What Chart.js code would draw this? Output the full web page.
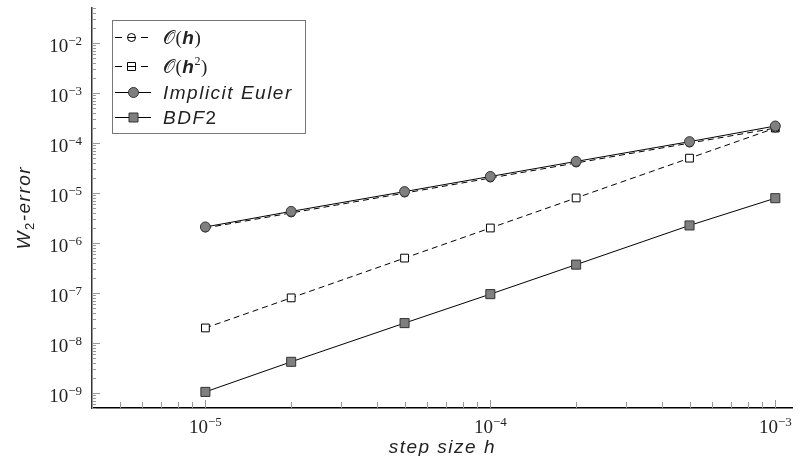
<!DOCTYPE html>
<html>
<head>
<meta charset="utf-8">
<script src="https://cdn.jsdelivr.net/npm/chart.js@4/dist/chart.umd.min.js"></script>
<style>
  html, body { margin: 0; padding: 0; background: #fff; }
</style>
</head>
<body>
<canvas id="errChart" width="800" height="456"></canvas>
<script>
// convergence data (log-log)
const stepSizes     = [1e-5, 2e-5, 5e-5, 1e-4, 2e-4, 5e-4, 1e-3];
const orderOne      = [2e-6, 4e-6, 1e-5, 2e-5, 4e-5, 1e-4, 2e-4];
const orderTwo      = [2e-8, 8e-8, 5e-7, 2e-6, 8e-6, 5e-5, 2e-4];
const implicitEuler = [2.1e-6, 4.3e-6, 1.07e-5, 2.15e-5, 4.3e-5, 1.07e-4, 2.2e-4];
const bdf2          = [1.05e-9, 4.2e-9, 2.5e-8, 9.5e-8, 3.7e-7, 2.25e-6, 7.9e-6];
const xTickExps = [-5, -4, -3];
const yTickExps = [-9, -8, -7, -6, -5, -4, -3, -2];
const xRange = [4e-6, 1.15e-3];
const yRange = [5e-10, 5.2e-2];

const SERIF = '"Liberation Serif", "DejaVu Serif", serif';
const SANS = '"Liberation Sans", Arial, sans-serif';
const INK = '#222';

function pts(vals){ return stepSizes.map((x, i) => ({ x, y: vals[i] })); }

function minorTicks(min, max){
  const out = [];
  for (let e = Math.floor(Math.log10(min)); e <= Math.ceil(Math.log10(max)); e++){
    for (let m = 1; m <= 9; m++){
      const v = m * Math.pow(10, e);
      if (v >= min * 0.999 && v <= max * 1.001) out.push({ v, major: m === 1 });
    }
  }
  return out;
}

// draw a run of text pieces: {t, font, dy}
function drawPieces(ctx, pieces, x, y, spacing){
  let cx = x;
  pieces.forEach(p => {
    ctx.font = p.font;
    ctx.letterSpacing = (p.sp != null ? p.sp : spacing) + 'px';
    ctx.fillText(p.t, cx, y + (p.dy || 0));
    cx += ctx.measureText(p.t).width;
  });
  return cx - x;
}
function piecesWidth(ctx, pieces, spacing){
  let w = 0;
  pieces.forEach(p => {
    ctx.font = p.font;
    ctx.letterSpacing = (p.sp != null ? p.sp : spacing) + 'px';
    w += ctx.measureText(p.t).width;
  });
  return w;
}
function powPieces(exp){
  return [
    { t: '10', font: '19px ' + SERIF, dy: 0, sp: 0 },
    { t: '\u2212' + Math.abs(exp), font: '13px ' + SERIF, dy: -7, sp: 0 }
  ];
}

const decor = {
  id: 'decor',
  afterDraw(chart){
    const { ctx, chartArea: a, scales: { x, y } } = chart;
    ctx.save();
    ctx.textBaseline = 'alphabetic';
    ctx.fillStyle = INK;

    // inward tick marks
    ctx.lineWidth = 1;
    ctx.strokeStyle = '#999';
    minorTicks(xRange[0], xRange[1]).forEach(t => {
      const px = Math.round(x.getPixelForValue(t.v)) + 0.5;
      const len = t.major ? 8 : 6;
      ctx.beginPath(); ctx.moveTo(px, a.bottom); ctx.lineTo(px, a.bottom - len); ctx.stroke();
    });
    minorTicks(yRange[0], yRange[1]).forEach(t => {
      const py = Math.round(y.getPixelForValue(t.v)) + 0.5;
      const len = t.major ? 8 : 4;
      ctx.beginPath(); ctx.moveTo(a.left, py); ctx.lineTo(a.left + len, py); ctx.stroke();
    });

    // tick labels
    xTickExps.forEach(e => {
      const px = x.getPixelForValue(Math.pow(10, e));
      const pcs = powPieces(e);
      const w = piecesWidth(ctx, pcs, 0);
      drawPieces(ctx, pcs, px - w / 2, a.bottom + 25, 0);
    });
    yTickExps.forEach(e => {
      const py = y.getPixelForValue(Math.pow(10, e));
      const pcs = powPieces(e);
      const w = piecesWidth(ctx, pcs, 0);
      drawPieces(ctx, pcs, 82 - w, py + 9, 0);
    });

    // axis titles
    const italic = 'italic 19px ' + SANS;
    const xt = [{ t: 'step size h', font: italic }];
    const xw = piecesWidth(ctx, xt, 1.5);
    drawPieces(ctx, xt, (a.left + a.right) / 2 - xw / 2, 453, 1.5);

    const yt = [
      { t: 'W', font: italic },
      { t: '2', font: '13px ' + SANS, dy: 4 },
      { t: '-error', font: italic }
    ];
    const yw = piecesWidth(ctx, yt, 1.5);
    ctx.save();
    ctx.translate(30, (a.top + a.bottom) / 2);
    ctx.rotate(-Math.PI / 2);
    drawPieces(ctx, yt, -yw / 2, 0, 1.5);
    ctx.restore();

    // legend box
    const L = { l: 112, t: 20, r: 305, b: 133 };
    ctx.letterSpacing = '0px';
    ctx.fillStyle = '#fff';
    ctx.fillRect(L.l, L.t, L.r - L.l, L.b - L.t);
    ctx.strokeStyle = '#777';
    ctx.lineWidth = 1;
    ctx.strokeRect(L.l + 0.5, L.t + 0.5, L.r - L.l, L.b - L.t);

    const rows = [
      { y: 37, dash: true, style: 'circle', fill: null, r: 4,
        text: [{ t: '\u{1D4AA}(', font: '19px ' + SERIF }, { t: 'h', font: 'italic bold 19px ' + SANS }, { t: ')', font: '19px ' + SERIF }] },
      { y: 66, dash: true, style: 'rect', fill: null, r: 4,
        text: [{ t: '\u{1D4AA}(', font: '19px ' + SERIF }, { t: 'h', font: 'italic bold 19px ' + SANS }, { t: '2', font: '12px ' + SERIF, dy: -8 }, { t: ')', font: '19px ' + SERIF }] },
      { y: 92, dash: false, style: 'circle', fill: '#7f7f7f', r: 5,
        text: [{ t: 'Implicit Euler', font: italic }] },
      { y: 117, dash: false, style: 'rect', fill: '#7f7f7f', r: 4.5,
        text: [{ t: 'BDF', font: italic }, { t: '2', font: '19px ' + SANS }] }
    ];
    rows.forEach(row => {
      ctx.strokeStyle = '#000';
      ctx.lineWidth = 1;
      if (row.dash){
        ctx.beginPath(); ctx.moveTo(115, row.y + 0.5); ctx.lineTo(122, row.y + 0.5);
        ctx.moveTo(141, row.y + 0.5); ctx.lineTo(148, row.y + 0.5); ctx.stroke();
      } else {
        ctx.beginPath(); ctx.moveTo(115, row.y + 0.5); ctx.lineTo(151, row.y + 0.5); ctx.stroke();
      }
      const cx = row.dash ? 131.5 : 133.5;
      ctx.beginPath();
      if (row.style === 'circle') ctx.arc(cx, row.y + 0.5, row.r, 0, Math.PI * 2);
      else ctx.rect(cx - row.r, row.y + 0.5 - row.r, row.r * 2, row.r * 2);
      if (row.fill){ ctx.fillStyle = row.fill; ctx.fill(); ctx.strokeStyle = '#333'; }
      else if (row.dash){ ctx.moveTo(cx - row.r, row.y + 0.5); ctx.lineTo(cx + row.r, row.y + 0.5); }
      ctx.stroke();
      ctx.fillStyle = INK;
      drawPieces(ctx, row.text, 163, row.y + 7, row.dash ? 0.5 : 1.5);
    });
    ctx.restore();
  }
};

new Chart(document.getElementById('errChart'), {
  type: 'line',
  data: {
    datasets: [
      { label: 'O(h)', data: pts(orderOne), order: 1,
        borderColor: '#000', borderWidth: 1, borderDash: [6, 4],
        pointStyle: 'circle', pointRadius: 4, pointBackgroundColor: '#fff', pointBorderColor: '#000', pointBorderWidth: 1 },
      { label: 'O(h^2)', data: pts(orderTwo), order: 1,
        borderColor: '#000', borderWidth: 1, borderDash: [6, 4],
        pointStyle: 'rect', pointRadius: 5.5, pointBackgroundColor: '#fff', pointBorderColor: '#000', pointBorderWidth: 1 },
      { label: 'Implicit Euler', data: pts(implicitEuler), order: 0,
        borderColor: '#000', borderWidth: 1,
        pointStyle: 'circle', pointRadius: 5, pointBackgroundColor: '#7f7f7f', pointBorderColor: '#333', pointBorderWidth: 1 },
      { label: 'BDF2', data: pts(bdf2), order: 0,
        borderColor: '#000', borderWidth: 1,
        pointStyle: 'rect', pointRadius: 6.4, pointBackgroundColor: '#7f7f7f', pointBorderColor: '#333', pointBorderWidth: 1 }
    ]
  },
  options: {
    responsive: false,
    animation: false,
    layout: { padding: { top: 7, right: 0, left: 0, bottom: 0 } },
    plugins: { legend: { display: false }, tooltip: { enabled: false } },
    scales: {
      x: {
        type: 'logarithmic', min: xRange[0], max: xRange[1],
        grid: { display: false },
        border: { display: true, color: '#000', width: 1.5 },
        ticks: { display: false },
        afterFit: s => { s.height = 48; }
      },
      y: {
        type: 'logarithmic', min: yRange[0], max: yRange[1],
        grid: { display: false },
        border: { display: true, color: '#333', width: 1.5 },
        ticks: { display: false },
        afterFit: s => { s.width = 92; }
      }
    }
  },
  plugins: [decor]
});
</script>
</body>
</html>
